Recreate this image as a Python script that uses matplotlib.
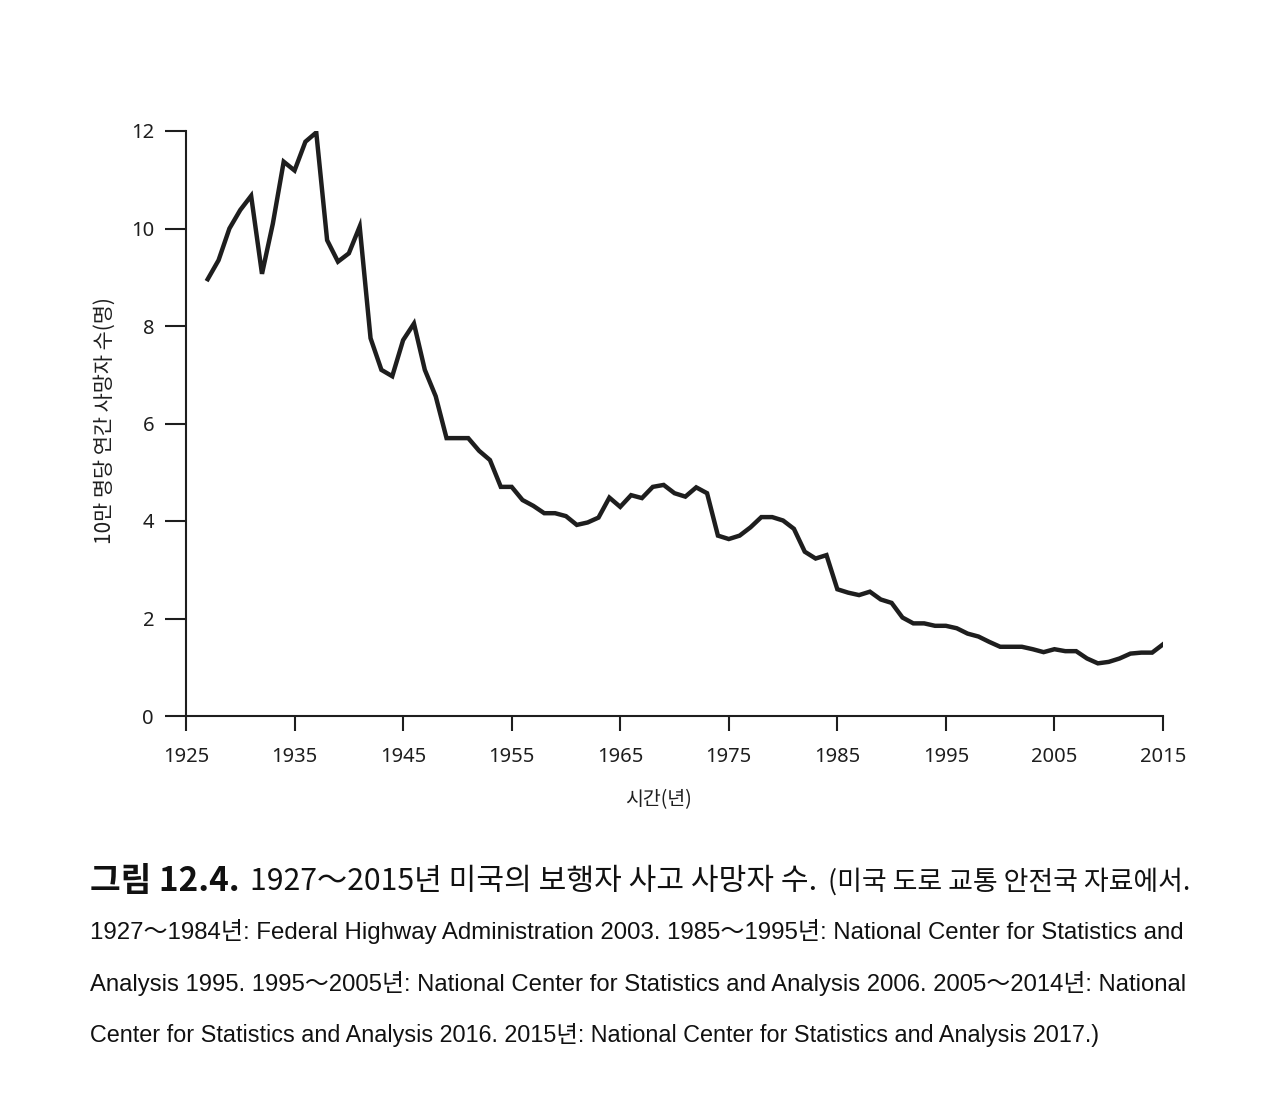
import numpy as np
import matplotlib
matplotlib.use("Agg")
import matplotlib.pyplot as plt
from matplotlib import font_manager

# 미국 보행자 사고 사망자 수 (10만 명당), 1927-2015
years = list(range(1927, 2016))
deaths = [
    8.96, 9.35, 10.0, 10.38, 10.67, 9.07, 10.1, 11.37, 11.19, 11.78,   # 1927-1936
    11.97, 9.76, 9.32, 9.49, 10.04, 7.75, 7.1, 6.97, 7.71, 8.05,       # 1937-1946
    7.1, 6.56, 5.70, 5.70, 5.70, 5.44, 5.25, 4.70, 4.70, 4.43,         # 1947-1956
    4.31, 4.16, 4.16, 4.10, 3.92, 3.97, 4.07, 4.48, 4.29, 4.53,        # 1957-1966
    4.47, 4.70, 4.74, 4.57, 4.50, 4.69, 4.57, 3.70, 3.63, 3.70,        # 1967-1976
    3.87, 4.08, 4.08, 4.01, 3.84, 3.37, 3.23, 3.30, 2.60, 2.53,        # 1977-1986
    2.48, 2.55, 2.39, 2.32, 2.02, 1.90, 1.90, 1.85, 1.85, 1.80,        # 1987-1996
    1.69, 1.63, 1.52, 1.42, 1.42, 1.42, 1.37, 1.31, 1.37, 1.33,        # 1997-2006
    1.33, 1.18, 1.08, 1.11, 1.18, 1.28, 1.30, 1.30, 1.47,              # 2007-2015
]
xticks = list(range(1925, 2016, 10))
yticks = [0, 2, 4, 6, 8, 10, 12]

title_bold = "그림 12.4."
title_main = "1927～2015년 미국의 보행자 사고 사망자 수."
title_src = "(미국 도로 교통 안전국 자료에서."
caption_lines = [
    "1927～1984년: Federal Highway Administration 2003. 1985～1995년: National Center for Statistics and",
    "Analysis 1995. 1995～2005년: National Center for Statistics and Analysis 2006. 2005～2014년: National",
    "Center for Statistics and Analysis 2016. 2015년: National Center for Statistics and Analysis 2017.)",
]

installed = {f.name for f in font_manager.fontManager.ttflist}
KR = ["Noto Sans CJK KR", "DejaVu Sans"]
latin = "Liberation Sans Narrow" if "Liberation Sans Narrow" in installed else "Liberation Sans"
CAP = [latin, "Noto Sans CJK KR", "DejaVu Sans"]
TICK = ["Noto Sans", "DejaVu Sans"]
plt.rcParams["font.family"] = KR

W, H = 1280, 1114
INK = "#1e1e1e"
fig = plt.figure(figsize=(W / 100, H / 100), dpi=100)
fig.patch.set_facecolor("white")

ax = fig.add_axes([186 / W, 1 - 716 / H, (1163 - 186) / W, (716 - 131) / H])
ax.plot(years, deaths, color=INK, lw=3.2, solid_joinstyle="miter")
ax.set_xlim(1925, 2015)
ax.set_ylim(0, 12)
ax.set_xticks(xticks)
ax.set_yticks(yticks)
for s in ["top", "right"]:
    ax.spines[s].set_visible(False)
for s in ["left", "bottom"]:
    ax.spines[s].set_linewidth(1.5)
    ax.spines[s].set_color(INK)
ax.tick_params(axis="x", length=11, width=1.5, pad=11, colors=INK)
ax.tick_params(axis="y", length=15, width=1.5, pad=8, colors=INK)
for lab in ax.get_xticklabels() + ax.get_yticklabels():
    lab.set_family(TICK)
    lab.set_fontsize(14.5)
ax.patch.set_alpha(0)

# y축 라벨 / x축 라벨
fig.text(105 / W, 1 - 421 / H, "10만 명당 연간 사망자 수(명)", rotation=90,
         ha="center", va="center", fontsize=15, color=INK)
fig.text(658 / W, 1 - 800 / H, "시간(년)", ha="center", va="center",
         fontsize=14, color=INK)

# 캡션
fig.canvas.draw()
r = fig.canvas.get_renderer()


def fit_text(x0, x1, y, s, fam, size=15, **kw):
    t = fig.text(x0 / W, 1 - y / H, s, ha="left", va="center",
                 fontsize=size, color="#111111", family=fam, **kw)
    w = t.get_window_extent(r).width
    t.set_fontsize(size * (x1 - x0) / w)
    return t


fit_text(90, 240, 882, title_bold, KR, fontweight="bold")
fit_text(250, 815, 882, title_main, KR)
fit_text(828, 1190, 882, title_src, KR)
for line, y, x1 in zip(caption_lines, [931, 983, 1035], [1190, 1190, 1100]):
    fit_text(90, x1, y, line, CAP)

fig.savefig("out.png", dpi=100)
